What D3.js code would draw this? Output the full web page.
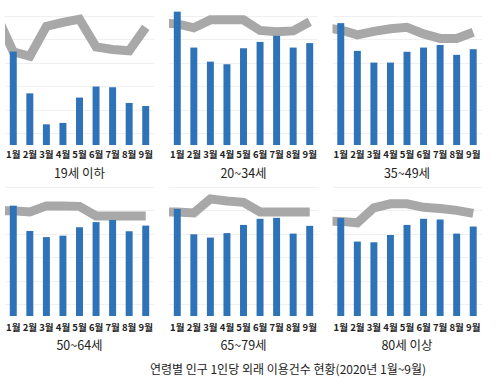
<!DOCTYPE html>
<html><head><meta charset="utf-8">
<script src="https://cdn.jsdelivr.net/npm/d3@7"></script>
<style>
html,body{margin:0;padding:0;background:#fff;}
svg{display:block;}
text{font-family:"Noto Sans CJK KR","Noto Sans",sans-serif;}
</style></head>
<body>
<svg id="c" width="496" height="387"></svg>
<script>
// ---- data ----
const months = ["1월","2월","3월","4월","5월","6월","7월","8월","9월"];
const groups = ["19세 이하","20~34세","35~49세","50~64세","65~79세","80세 이상"];
const yTicks = [1,2,3,4,5,6];
// bars: 2020 monthly values (relative units)
const bars0 = [4.48, 2.70, 1.38, 1.44, 2.52, 2.99, 2.96, 2.29, 2.16];
const bars1 = [6.18, 4.65, 4.05, 3.94, 4.62, 4.89, 5.15, 4.65, 4.84];
const bars2 = [5.69, 4.51, 4.01, 4.01, 4.47, 4.65, 4.76, 4.34, 4.58];
const bars3 = [5.20, 4.12, 3.86, 3.92, 4.28, 4.50, 4.59, 4.11, 4.35];
const bars4 = [5.06, 3.98, 3.84, 4.03, 4.38, 4.64, 4.68, 4.01, 4.34];
const bars5 = [4.67, 3.67, 3.64, 3.95, 4.38, 4.64, 4.61, 4.01, 4.31];
// gray band: reference level (first value = preceding month, partly visible)
const line0 = [6.00, 4.47, 4.28, 5.55, 5.72, 5.86, 4.68, 4.57, 4.51, 5.51];
const line1 = [5.70, 5.66, 5.49, 5.83, 5.83, 5.83, 5.38, 5.32, 5.36, 5.75];
const line2 = [5.49, 5.40, 5.19, 5.34, 5.45, 5.51, 5.23, 5.04, 5.04, 5.30];
const line3 = [4.98, 4.98, 4.93, 5.19, 5.19, 5.17, 4.76, 4.76, 4.76, 4.76];
const line4 = [4.93, 4.93, 4.89, 5.49, 5.40, 5.34, 4.93, 4.93, 4.93, 4.93];
const line5 = [4.55, 4.53, 4.47, 5.11, 5.28, 5.28, 5.13, 5.08, 5.00, 4.87];
const caption = "연령별 인구 1인당 외래 이용건수 현황(2020년 1월~9월)";

const barsAll = [bars0,bars1,bars2,bars3,bars4,bars5];
const linesAll = [line0,line1,line2,line3,line4,line5];

// ---- layout ----
const svg = d3.select("#c");
const colX = [5, 169, 332.5];
const plotW = 149;
const rowTop = [10, 181];
const plotH = 135;
const BLUE = "#2e72b8", GRAY = "#a8a8a8";

const defs = svg.append("defs");

groups.forEach((g, i) => {
  const col = i % 3, row = Math.floor(i / 3);
  const x0 = colX[col], y0 = rowTop[row];
  const gEl = svg.append("g").attr("transform", `translate(${x0},${y0})`);

  const x = d3.scaleBand().domain(months).range([0, plotW]).paddingInner(0.58).paddingOuter(0.29);
  const y = d3.scaleLinear().domain([0.5, 6.25]).range([plotH, 0]);
  const step = x.step();
  const cx = m => x(m) + x.bandwidth() / 2;

  // gridlines
  const yAxis = d3.axisLeft(y).tickValues(yTicks).tickSize(-plotW).tickFormat("");
  const ga = gEl.append("g").call(yAxis);
  ga.select(".domain").remove();
  ga.selectAll("line").attr("stroke", "#f0f0f0").attr("stroke-width", 1).attr("shape-rendering","crispEdges");

  // band line (clipped to plot width)
  const cid = "clip" + i;
  defs.append("clipPath").attr("id", cid).append("rect")
    .attr("x", 0).attr("y", -20).attr("width", plotW).attr("height", plotH + 40);
  const lv = linesAll[i];
  const pts = lv.map((v, k) => [k === 0 ? cx(months[0]) - step : cx(months[k - 1]), y(v)]);
  gEl.append("path")
    .attr("clip-path", `url(#${cid})`)
    .attr("d", d3.line()(pts))
    .attr("fill", "none").attr("stroke", GRAY).attr("stroke-width", 9)
    .attr("stroke-linejoin", "miter");

  // bars
  gEl.selectAll("rect.bar").data(barsAll[i]).join("rect")
    .attr("class", "bar")
    .attr("x", (d, k) => x(months[k]))
    .attr("width", x.bandwidth())
    .attr("y", d => y(d))
    .attr("height", d => plotH - y(d))
    .attr("fill", BLUE);

  // month labels
  const xAxis = d3.axisBottom(x).tickSize(0).tickPadding(0);
  const gx = gEl.append("g").attr("transform", `translate(0,${plotH})`).call(xAxis);
  gx.select(".domain").remove();
  gx.selectAll("text")
    .attr("dy", null).attr("y", row === 0 ? 13 : 14.5)
    .attr("font-size", 9.5).attr("font-weight", 700).attr("fill", "#222")
    .style("font-family", '"Noto Sans CJK KR", sans-serif');

  // panel title
  gEl.append("text")
    .attr("x", plotW / 2).attr("y", plotH + (row === 0 ? 32.5 : 34))
    .attr("text-anchor", "middle").attr("font-size", 12.5).attr("fill", "#222")
    .text(g);
});

svg.append("text")
  .attr("x", 288).attr("y", 374)
  .attr("text-anchor", "middle").attr("font-size", 12).attr("fill", "#222")
  .text(caption);
</script>
</body></html>
